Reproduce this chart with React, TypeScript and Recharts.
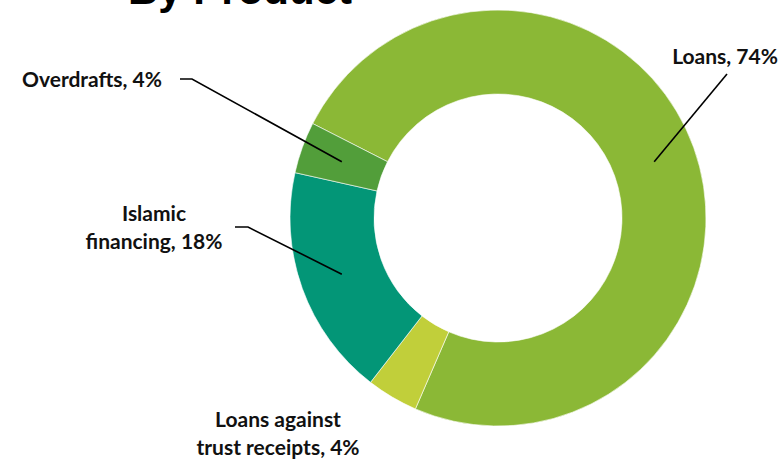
import { PieChart, Pie, Cell } from 'recharts';

const categories = ['Loans', 'Loans against trust receipts', 'Islamic financing', 'Overdrafts'];
const shares = [74, 4, 18, 4];
const colors = ['#8BB836', '#C1CF3A', '#039677', '#529E3A'];

const data = categories.map((name, i) => ({ name, value: shares[i] }));

// where each label sits and how its leader line starts (screen px)
const labelLayout: Record<string, { x: number; ys: number[]; breakAfter: number; leader: number[][] }> = {
  'Loans': { x: 725, ys: [64], breakAfter: 0, leader: [[727, 74]] },
  'Loans against trust receipts': { x: 278, ys: [427, 455], breakAfter: 2, leader: [] },
  'Islamic financing': { x: 154, ys: [221, 249], breakAfter: 1, leader: [[235, 227], [248, 227]] },
  'Overdrafts': { x: 92, ys: [87], breakAfter: 0, leader: [[180, 79], [192, 79]] },
};

const RADIAN = Math.PI / 180;
const FONT = 'Lato, "Open Sans", sans-serif';

function renderLabel(props: any) {
  const { cx, cy, midAngle, innerRadius, outerRadius, name, value } = props;
  const layout = labelLayout[name];
  if (!layout) return null;
  const words = name.split(' ');
  const text = `${name}, ${value}%`;
  const lines = layout.breakAfter
    ? [words.slice(0, layout.breakAfter).join(' '), `${words.slice(layout.breakAfter).join(' ')}, ${value}%`]
    : [text];
  const r = (innerRadius + outerRadius) / 2;
  const mx = cx + r * Math.cos(-midAngle * RADIAN);
  const my = cy + r * Math.sin(-midAngle * RADIAN);
  const pts = layout.leader.length ? [...layout.leader, [mx, my]] : [];
  return (
    <g key={name}>
      {pts.length > 0 && (
        <polyline points={pts.map(p => p.join(',')).join(' ')} fill="none" stroke="#000" strokeWidth={1.6} />
      )}
      {lines.map((ln, i) => (
        <text key={i} x={layout.x} y={layout.ys[i]} textAnchor="middle" fontFamily={FONT} fontWeight="bold" fontSize={21} fill="#111">
          {ln}
        </text>
      ))}
    </g>
  );
}

export default function App() {
  return (
    <div style={{ position: 'absolute', left: 0, top: 0, width: 780, height: 460, background: '#fff' }}>
      <PieChart width={780} height={460} margin={{ top: 0, right: 0, bottom: 0, left: 0 }}>
        <Pie
          data={data}
          dataKey="value"
          nameKey="name"
          cx={498}
          cy={218}
          innerRadius={124}
          outerRadius={208}
          startAngle={153}
          endAngle={-207}
          stroke="#ffffff"
          strokeWidth={0.6}
          label={renderLabel}
          labelLine={false}
          isAnimationActive={false}
        >
          {data.map((d, i) => (
            <Cell key={d.name} fill={colors[i]} />
          ))}
        </Pie>
      </PieChart>
      <svg width={780} height={460} style={{ position: 'absolute', left: 0, top: 0, pointerEvents: 'none' }}>
        <text x={128} y={4} fontFamily='"Liberation Sans", Arial, sans-serif' fontWeight="bold" fontSize={42} fill="#000">
          By Product
        </text>
      </svg>
    </div>
  );
}
